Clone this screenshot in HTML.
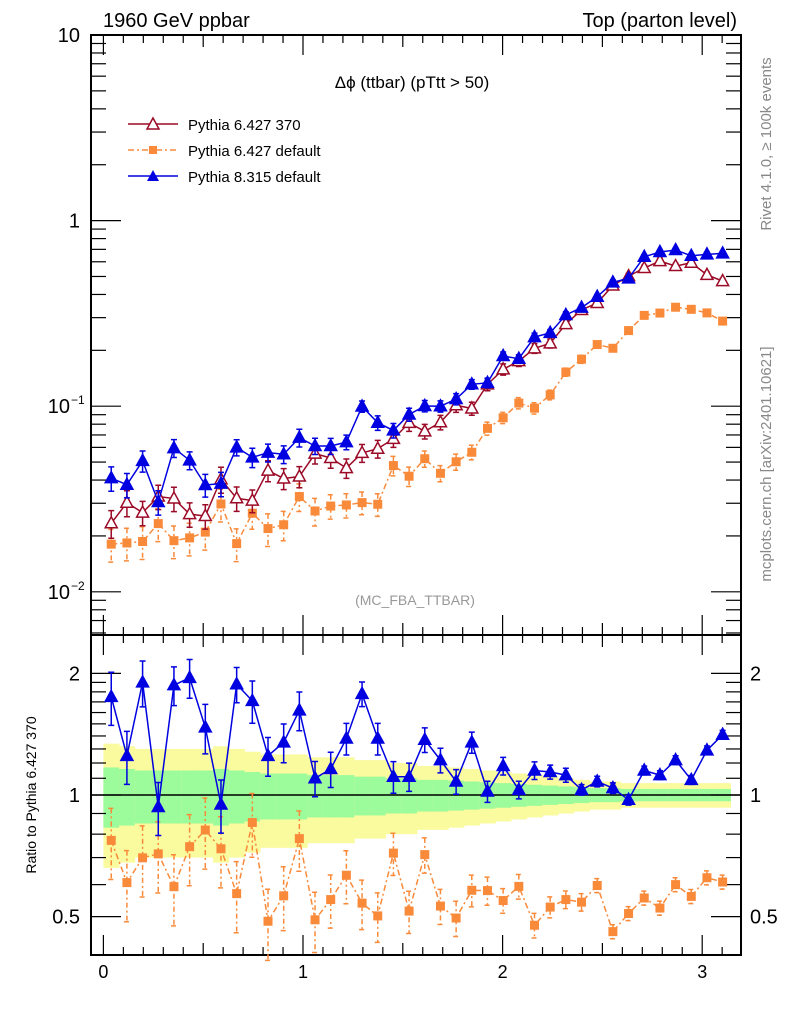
<!DOCTYPE html>
<html><head><meta charset="utf-8"><style>
body{margin:0;background:#fff}
svg{display:block;font-family:"Liberation Sans",sans-serif}
</style></head><body>
<svg id="chart" width="786" height="1024" viewBox="0 0 786 1024" xmlns="http://www.w3.org/2000/svg">
<g id="bands"></g>
<g id="grid"></g>
<g id="series"></g>
<text x="103" y="27" font-size="20">1960 GeV ppbar</text>
<text x="737" y="27" font-size="20" text-anchor="end">Top (parton level)</text>
<text x="412" y="88" font-size="17" text-anchor="middle">Δϕ (ttbar) (pTtt &gt; 50)</text>
<text x="415" y="605" font-size="14" fill="#999" text-anchor="middle">(MC_FBA_TTBAR)</text>
<text transform="translate(771,144) rotate(-90)" font-size="15" fill="#888" text-anchor="middle">Rivet 4.1.0, ≥ 100k events</text>
<text transform="translate(771,464) rotate(-90)" font-size="15" fill="#888" text-anchor="middle">mcplots.cern.ch [arXiv:2401.10621]</text>
<text transform="translate(36,795) rotate(-90)" font-size="14" text-anchor="middle">Ratio to Pythia 6.427 370</text>
<g>
 <g>
  <line x1="128" y1="124" x2="178" y2="124" stroke="#9b0a26" stroke-width="1.5"/>
  <path d="M153,118 L159,129 L147,129 Z" fill="#fff" stroke="#9b0a26" stroke-width="1.5"/>
  <text x="188" y="130" font-size="15">Pythia 6.427 370</text></g>
 <g>
  <line x1="128" y1="150" x2="178" y2="150" stroke="#f98a3a" stroke-width="1.5" stroke-dasharray="6,3,2,3"/>
  <rect x="149" y="146" width="8" height="8" fill="#f98a3a"/>
  <text x="188" y="156" font-size="15">Pythia 6.427 default</text></g>
 <g>
  <line x1="128" y1="176" x2="178" y2="176" stroke="#0000e0" stroke-width="1.5"/>
  <path d="M153,170 L159,181 L147,181 Z" fill="#0000e0"/>
  <text x="188" y="182" font-size="15">Pythia 8.315 default</text></g>
</g>
</svg>
<script>
const red = [0.0234,0.0302,0.0267,0.0326,0.0318,0.0262,0.0256,0.0404,0.0319,0.0310,0.0450,0.0408,0.0418,0.0555,0.0526,0.0464,0.0560,0.0590,0.0667,0.0813,0.0732,0.0819,0.1012,0.0972,0.131,0.158,0.175,0.205,0.218,0.277,0.330,0.360,0.447,0.502,0.555,0.605,0.569,0.593,0.510,0.472];
const ratioBlue = [1.75,1.25,1.90,0.934,1.87,1.95,1.47,0.947,1.88,1.71,1.25,1.35,1.62,1.10,1.16,1.38,1.78,1.38,1.11,1.11,1.37,1.22,1.08,1.35,1.02,1.18,1.03,1.15,1.14,1.12,1.03,1.08,1.04,0.973,1.15,1.12,1.22,1.09,1.29,1.41];
const ratioOrange = [0.772,0.607,0.699,0.715,0.593,0.745,0.819,0.736,0.570,0.855,0.487,0.563,0.780,0.491,0.551,0.633,0.540,0.502,0.718,0.516,0.712,0.531,0.496,0.581,0.580,0.548,0.594,0.476,0.528,0.551,0.543,0.597,0.459,0.509,0.556,0.525,0.600,0.561,0.624,0.609];
const redErr = [0.17,0.16,0.15,0.15,0.15,0.15,0.15,0.16,0.15,0.14,0.13,0.13,0.13,0.12,0.12,0.12,0.11,0.11,0.10,0.10,0.09,0.09,0.085,0.08,0.075,0.07,0.065,0.06,0.055,0.05,0.045,0.04,0.04,0.035,0.035,0.035,0.035,0.035,0.035,0.035];
const blueErr = [0.15,0.15,0.13,0.15,0.11,0.11,0.14,0.15,0.10,0.12,0.11,0.11,0.11,0.10,0.10,0.09,0.07,0.09,0.09,0.08,0.07,0.07,0.07,0.06,0.06,0.05,0.05,0.05,0.04,0.04,0.03,0.03,0.03,0.03,0.025,0.025,0.025,0.025,0.025,0.025];
const orangeErr = [0.2,0.2,0.2,0.2,0.2,0.2,0.2,0.2,0.2,0.18,0.2,0.18,0.17,0.17,0.15,0.15,0.14,0.14,0.12,0.12,0.1,0.1,0.1,0.09,0.08,0.07,0.07,0.07,0.06,0.05,0.05,0.04,0.04,0.04,0.04,0.04,0.04,0.04,0.04,0.04];
const xTicks = ["0","1","2","3"];
const nBins = 40, xMaxData = Math.PI;

const NS="http://www.w3.org/2000/svg";
const L=91,R=741,T=35,MID=635,B=955;
const X = v => 103.4 + v*199.6;
const Ym = v => T + 185.6*(1 - Math.log10(v));
const Yr = r => 795 - 404*Math.log10(r);
const bw = xMaxData/nBins;
const cx = i => X((i+0.5)*bw);
function mk(tag, attrs, parent){const e=document.createElementNS(NS,tag);for(const k in attrs)e.setAttribute(k,attrs[k]);parent.appendChild(e);return e;}
const bands=document.getElementById('bands'), grid=document.getElementById('grid'), ser=document.getElementById('series');

// bands
for(let i=0;i<nBins;i++){
  const x0=X(i*bw), x1=X((i+1)*bw), e=redErr[i];
  const y=mk('rect',{x:x0,y:Yr(1+2*e),width:x1-x0+0.5,height:Yr(1-2*e)-Yr(1+2*e),fill:'#fafa9e'},bands);
  
  
  const g=mk('rect',{x:x0,y:Yr(1+e),width:x1-x0+0.5,height:Yr(1-e)-Yr(1+e),fill:'#9cfb9a'},bands);
  
  
}
mk('line',{x1:L,x2:R,y1:Yr(1),y2:Yr(1),stroke:'#000','stroke-width':1.5},bands);

// frames
mk('rect',{x:L,y:T,width:R-L,height:MID-T,fill:'none',stroke:'#000','stroke-width':2},grid);
mk('rect',{x:L,y:MID,width:R-L,height:B-MID,fill:'none',stroke:'#000','stroke-width':2},grid);
// x ticks
for(let k=0;k<=31;k++){
  const v=k*0.1, x=X(v); if(x>R) break;
  const len = k%10===0?20:(k%5===0?12:8);
  for(const [y0,dir] of [[MID,-1],[T,1],[B,-1],[MID,1]]){
    mk('line',{x1:x,x2:x,y1:y0,y2:y0+dir*len,stroke:'#000','stroke-width':1.2},grid);
  }
}
xTicks.forEach((t,i)=>{const e=mk('text',{x:X(+t),y:978,'font-size':18,'text-anchor':'middle'},grid);e.textContent=t;
  
  });
// main log ticks
for(let d=-3;d<=1;d++){
  for(let m=1;m<=9;m++){
    const v=m*Math.pow(10,d), y=Ym(v); if(y<T-0.5||y>MID) continue;
    const len=m===1?30:15;
    mk('line',{x1:L,x2:L+len,y1:y,y2:y,stroke:'#000','stroke-width':1.2},grid);
    mk('line',{x1:R,x2:R-len,y1:y,y2:y,stroke:'#000','stroke-width':1.2},grid);
  }
}
const ylab=[[10,'10'],[1,'1'],[0.1,'10'],[0.01,'10']];
ylab.forEach(([v,t],i)=>{const e=mk('text',{x:i<2?80:70,y:Ym(v)+7,'font-size':20,'text-anchor':'end'},grid);e.textContent=t;
  
  
  if(i>=2){const s=mk('text',{x:71,y:Ym(v)-2,'font-size':12},grid);s.textContent=i===2?'−1':'−2';}});
// ratio ticks
for(let v=0.4;v<=2.5;v+=(v<1-1e-9?0.1:(v<2-1e-9?0.1:0.5))){
  const y=Yr(v); if(y<MID||y>B) continue;
  const major=[0.5,1,2].some(m=>Math.abs(m-v)<1e-6), len=major?30:15;
  mk('line',{x1:L,x2:L+len,y1:y,y2:y,stroke:'#000','stroke-width':1.2},grid);
  mk('line',{x1:R,x2:R-len,y1:y,y2:y,stroke:'#000','stroke-width':1.2},grid);
}
[[2,'2'],[1,'1'],[0.5,'0.5']].forEach(([v,t])=>{
  const a=mk('text',{x:80,y:Yr(v)+7,'font-size':20,'text-anchor':'end'},grid);a.textContent=t;
  
  
  const b=mk('text',{x:750,y:Yr(v)+7,'font-size':20},grid);b.textContent=t;
  
  
});

function series(vals, errs, Y, color, dash, marker, name){
  const g=mk('g',{},ser);
  
  
  const pts=vals.map((v,i)=>cx(i)+','+Y(v)).join(' ');
  const pl=mk('polyline',{points:pts,fill:'none',stroke:color,'stroke-width':1.5},g);
  if(dash) pl.setAttribute('stroke-dasharray',dash);
  vals.forEach((v,i)=>{
    const x=cx(i), y=Y(v), yt=Y(v*(1+errs[i])), yb=Y(v*(1-errs[i]));
    const eb=mk('path',{d:`M${x},${yt}V${yb}M${x-3},${yt}H${x+3}M${x-3},${yb}H${x+3}`,stroke:color,'stroke-width':1.5,fill:'none'},g);
    if(dash) eb.setAttribute('stroke-dasharray','5,3,2,3');
    let m;
    if(marker==='sq') m=mk('rect',{x:x-4.5,y:y-4.5,width:9,height:9,fill:color},g);
    else m=mk('path',{d:`M${x},${y-6.5} L${x+6},${y+4.5} L${x-6},${y+4.5} Z`,fill:marker==='open'?'#fff':color,stroke:color,'stroke-width':1.5},g);
    
    
  });
}
const blue=red.map((v,i)=>v*ratioBlue[i]);
const orange=red.map((v,i)=>v*ratioOrange[i]);
series(orange,orangeErr,Ym,'#f98a3a','6,3,2,3','sq','pythia6-default-main');
series(red,redErr,Ym,'#9b0a26',null,'open','pythia6-370-main');
series(blue,blueErr,Ym,'#0000e0',null,'tri','pythia8-default-main');
series(ratioOrange,orangeErr,Yr,'#f98a3a','6,3,2,3','sq','pythia6-default-ratio');
series(ratioBlue,blueErr,Yr,'#0000e0',null,'tri','pythia8-default-ratio');
</script>
</body></html>
